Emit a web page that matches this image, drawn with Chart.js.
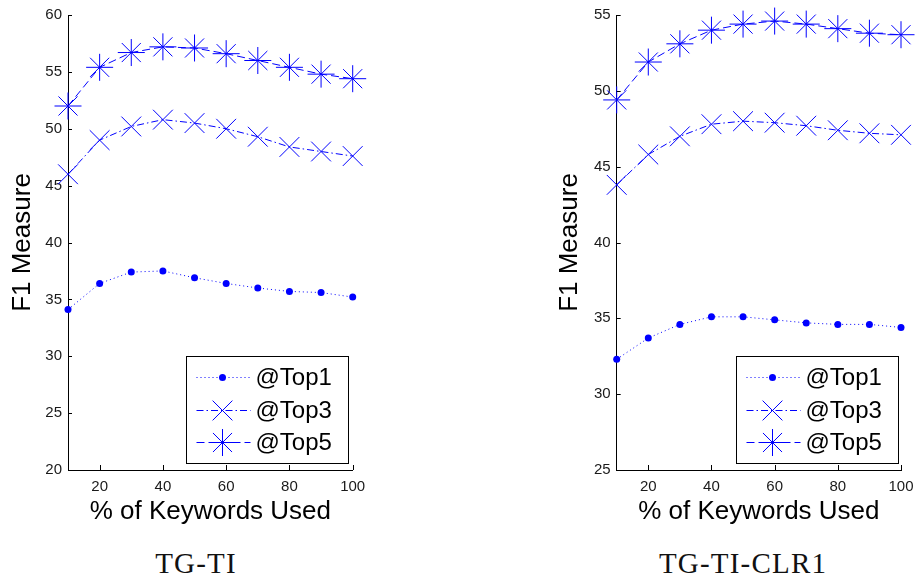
<!DOCTYPE html>
<html>
<head>
<meta charset="utf-8">
<script src="https://cdn.jsdelivr.net/npm/chart.js@4/dist/chart.umd.min.js"></script>
<style>
  html, body { margin: 0; padding: 0; background: #fff; }
  #wrap { position: relative; width: 916px; height: 584px; overflow: hidden; }
  canvas { position: absolute; top: 0; }
  .cap {
    position: absolute; width: 260px; text-align: center;
    font-family: "Liberation Serif", "Times New Roman", serif;
    font-size: 29px; letter-spacing: 1.2px; line-height: 34px; color: #111;
  }
</style>
</head>
<body>
<div id="wrap">
  <canvas id="chartA" width="380" height="530" style="left:0px"></canvas>
  <canvas id="chartB" width="376" height="530" style="left:540px"></canvas>
  <div class="cap" style="left:66px;top:546px">TG-TI</div>
  <div class="cap" style="left:613px;top:546px">TG-TI-CLR1</div>
</div>
<script>
// Share of keywords used (%)
const keywordPct = [10, 20, 30, 40, 50, 60, 70, 80, 90, 100];
const xTickValues = [20, 40, 60, 80, 100];

// TG-TI: F1 measure per cutoff
const tgTiTop1 = [34.1, 36.4, 37.4, 37.5, 36.9, 36.4, 36.0, 35.7, 35.6, 35.2];
const tgTiTop3 = [46.0, 49.0, 50.2, 50.8, 50.5, 50.0, 49.3, 48.4, 48.0, 47.6];
const tgTiTop5 = [52.0, 55.4, 56.7, 57.2, 57.1, 56.6, 56.0, 55.4, 54.8, 54.4];
const tgTiYTicks = [20, 25, 30, 35, 40, 45, 50, 55, 60];

// TG-TI-CLR1: F1 measure per cutoff
const clrTop1 = [32.3, 33.7, 34.6, 35.1, 35.1, 34.9, 34.7, 34.6, 34.6, 34.4];
const clrTop3 = [43.8, 45.8, 47.0, 47.8, 48.0, 47.9, 47.7, 47.4, 47.2, 47.1];
const clrTop5 = [49.4, 51.9, 53.1, 54.0, 54.4, 54.6, 54.4, 54.1, 53.8, 53.7];
const clrYTicks = [25, 30, 35, 40, 45, 50, 55];

const seriesLabels = ['@Top1', '@Top3', '@Top5'];

const BLUE = 'rgb(0,0,255)';
const SANS = '"Liberation Sans", Arial, Helvetica, sans-serif';

const lineStyles = [
  { borderDash: [1, 3],        pointStyle: 'circle',   pointRadius: 3.5, pointBorderWidth: 0 },
  { borderDash: [7, 3, 1.5, 3], pointStyle: 'crossRot', pointRadius: 14,  pointBorderWidth: 1 },
  { borderDash: [8, 4],        pointStyle: 'star',     pointRadius: 13.5, pointBorderWidth: 1 }
];

function makeDatasets(seriesList) {
  return seriesList.map((vals, i) => Object.assign({
    label: seriesLabels[i],
    data: vals.map((v, j) => ({ x: keywordPct[j], y: v })),
    borderColor: BLUE,
    backgroundColor: BLUE,
    pointBackgroundColor: BLUE,
    pointBorderColor: BLUE,
    borderWidth: 1,
    tension: 0,
    clip: false
  }, lineStyles[i]));
}

// Inward tick marks plus a boxed legend inside the plot area
const axesAndLegend = {
  id: 'axesAndLegend',
  afterDraw(chart, args, opts) {
    const { ctx, chartArea: a } = chart;
    const xs = chart.scales.x, ys = chart.scales.y;
    ctx.save();
    ctx.strokeStyle = '#000';
    ctx.lineWidth = 1;
    ctx.setLineDash([]);
    ctx.beginPath();
    xs.ticks.forEach(t => {
      const px = Math.round(xs.getPixelForValue(t.value)) + 0.5;
      ctx.moveTo(px, a.bottom);
      ctx.lineTo(px, a.bottom - 5);
    });
    ys.ticks.forEach(t => {
      const py = Math.round(ys.getPixelForValue(t.value)) + 0.5;
      ctx.moveTo(a.left, py);
      ctx.lineTo(a.left + 4, py);
    });
    ctx.stroke();

    // legend box
    const w = 162, h = 107;
    const right = a.right - opts.gapRight;
    const bottom = a.bottom - 7.5;
    const left = Math.round(right - w) + 0.5;
    const top = Math.round(bottom - h) + 0.5;
    ctx.fillStyle = '#fff';
    ctx.fillRect(left, top, w, h);
    ctx.strokeRect(left, top, w, h);

    chart.data.datasets.forEach((ds, i) => {
      const ry = Math.round(top + 20.5 + i * 32.5) + 0.5;
      ctx.strokeStyle = BLUE;
      ctx.lineWidth = 1;
      ctx.setLineDash(ds.borderDash);
      ctx.beginPath();
      ctx.moveTo(left + 10, ry);
      ctx.lineTo(left + 64, ry);
      ctx.stroke();
      ctx.setLineDash([]);
      ctx.fillStyle = BLUE;
      ctx.strokeStyle = BLUE;
      ctx.lineWidth = ds.pointBorderWidth || 1;
      Chart.helpers.drawPoint(ctx, {
        pointStyle: ds.pointStyle, radius: ds.pointRadius, rotation: 0,
        borderWidth: ds.pointBorderWidth
      }, left + 36, ry);
      ctx.fillStyle = '#000';
      ctx.font = '24px ' + SANS;
      ctx.textAlign = 'left';
      ctx.textBaseline = 'middle';
      ctx.fillText(ds.label, left + 69, ry + 1);
    });
    ctx.restore();
  }
};

function buildChart(canvasId, seriesList, yTicks, geom) {
  return new Chart(document.getElementById(canvasId), {
    type: 'line',
    data: { datasets: makeDatasets(seriesList) },
    plugins: [axesAndLegend],
    options: {
      responsive: false,
      animation: false,
      devicePixelRatio: 1,
      events: [],
      layout: { padding: { left: 0, right: geom.padRight, top: geom.padTop, bottom: 0 } },
      plugins: {
        legend: { display: false },
        tooltip: { enabled: false },
        axesAndLegend: { gapRight: geom.legendGap }
      },
      scales: {
        x: {
          type: 'linear',
          min: keywordPct[0],
          max: keywordPct[keywordPct.length - 1],
          grid: { display: false, drawTicks: false },
          border: { display: true, color: '#000', width: 1 },
          afterBuildTicks: s => { s.ticks = xTickValues.map(v => ({ value: v })); },
          afterFit: s => { s.height = 60; s.paddingLeft = 0; s.paddingRight = 0; },
          ticks: { autoSkip: false, maxRotation: 0, padding: 8, color: '#1a1a1a',
                   font: { family: SANS, size: 15 } },
          title: { display: true, text: '% of Keywords Used', color: '#000',
                   font: { family: SANS, size: 26 }, padding: { top: 0, bottom: 3 } }
        },
        y: {
          type: 'linear',
          min: yTicks[0],
          max: yTicks[yTicks.length - 1],
          grid: { display: false, drawTicks: false },
          border: { display: true, color: '#000', width: 1 },
          afterBuildTicks: s => { s.ticks = yTicks.map(v => ({ value: v })); },
          afterFit: s => { s.width = geom.yWidth; s.paddingTop = 0; s.paddingBottom = 0; },
          ticks: { autoSkip: false, padding: 6, color: '#1a1a1a',
                   font: { family: SANS, size: 15 } },
          title: { display: true, text: 'F1 Measure', color: '#000',
                   font: { family: SANS, size: 26 }, padding: { top: geom.titlePad, bottom: 0 } }
        }
      }
    }
  });
}

buildChart('chartA', [tgTiTop1, tgTiTop3, tgTiTop5], tgTiYTicks,
  { yWidth: 68, padRight: 27.3, padTop: 7.5, titlePad: 7, legendGap: 5 });
buildChart('chartB', [clrTop1, clrTop3, clrTop5], clrYTicks,
  { yWidth: 76.7, padRight: 14.3, padTop: 8.3, titlePad: 14, legendGap: 3.5 });
</script>
</body>
</html>
